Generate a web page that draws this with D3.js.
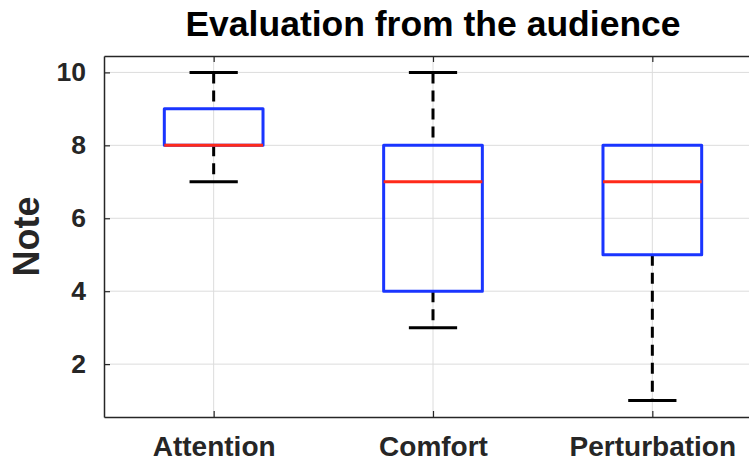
<!DOCTYPE html>
<html>
<head>
<meta charset="utf-8">
<script src="https://cdn.jsdelivr.net/npm/d3@7/dist/d3.min.js"></script>
<style>
  html, body { margin: 0; padding: 0; background: #fff; overflow: hidden; }
  svg { display: block; }
  text { font-family: "Liberation Sans", Arial, Helvetica, sans-serif; font-weight: bold; }
</style>
</head>
<body>
<svg id="chart" width="749" height="461"></svg>
<script>
// Audience ratings per criterion (box-plot summary)
const categories = ["Attention", "Comfort", "Perturbation"];
const whiskerLow  = [7, 3, 1];
const quartile1   = [8, 4, 5];
const medians     = [8, 7, 7];
const quartile3   = [9, 8, 8];
const whiskerHigh = [10, 10, 8];
const yTicks = [2, 4, 6, 8, 10];

const svg = d3.select("#chart");
// Plot frame; it continues a little past the right edge of the canvas
const frame = { left: 104, right: 762, top: 56, bottom: 417 };

const x = d3.scaleLinear().domain([0.5, 3.5]).range([frame.left, frame.right]);
const y = d3.scaleLinear().domain([0.55, 10.45]).range([frame.bottom, frame.top]);

const axisColor = "#262626";
const gridColor = "#dcdcdc";

// Grid
const grid = svg.append("g");
grid.selectAll("line.h").data(yTicks).join("line")
  .attr("x1", frame.left).attr("x2", frame.right)
  .attr("y1", d => y(d)).attr("y2", d => y(d))
  .attr("stroke", gridColor).attr("stroke-width", 1);
grid.selectAll("line.v").data(categories).join("line")
  .attr("x1", (d, i) => x(i + 1)).attr("x2", (d, i) => x(i + 1))
  .attr("y1", frame.top).attr("y2", frame.bottom)
  .attr("stroke", gridColor).attr("stroke-width", 1);

// Axes with inward ticks
const yAxis = d3.axisLeft(y).tickValues(yTicks).tickSizeInner(-6).tickSizeOuter(0).tickPadding(18);
const gy = svg.append("g").attr("transform", `translate(${frame.left},0)`).call(yAxis);
gy.select(".domain").attr("stroke", axisColor).attr("stroke-width", 1.5);
gy.selectAll(".tick line").attr("stroke", axisColor).attr("stroke-width", 1.2);
gy.selectAll(".tick text").attr("fill", axisColor).attr("font-size", 26.5)
  .attr("font-family", "Liberation Sans, Arial, sans-serif").attr("font-weight", "bold");

const xAxis = d3.axisBottom(x).tickValues([1, 2, 3]).tickFormat(d => categories[d - 1])
  .tickSizeInner(-6).tickSizeOuter(0).tickPadding(19);
const gx = svg.append("g").attr("transform", `translate(0,${frame.bottom})`).call(xAxis);
gx.select(".domain").attr("stroke", axisColor).attr("stroke-width", 1.5);
gx.selectAll(".tick line").attr("stroke", axisColor).attr("stroke-width", 1.2);
gx.selectAll(".tick text").attr("fill", axisColor).attr("font-size", 28)
  .attr("font-family", "Liberation Sans, Arial, sans-serif").attr("font-weight", "bold");

const xTop = d3.axisTop(x).tickValues([1, 2, 3]).tickFormat("").tickSizeInner(-6).tickSizeOuter(0);
const gt = svg.append("g").attr("transform", `translate(0,${frame.top})`).call(xTop);
gt.select(".domain").attr("stroke", axisColor).attr("stroke-width", 1.5);
gt.selectAll(".tick line").attr("stroke", axisColor).attr("stroke-width", 1.2);

// Boxes
const boxHalf = 0.225, capHalf = 0.11;
const data = categories.map((c, i) => ({
  i: i + 1, lo: whiskerLow[i], q1: quartile1[i], med: medians[i], q3: quartile3[i], hi: whiskerHigh[i]
}));
const boxes = svg.append("g").selectAll("g").data(data).join("g");

// Whiskers (dashed)
boxes.filter(d => d.hi > d.q3).append("line")
  .attr("x1", d => x(d.i)).attr("x2", d => x(d.i))
  .attr("y1", d => y(d.hi)).attr("y2", d => y(d.q3))
  .attr("stroke", "#000").attr("stroke-width", 3).attr("stroke-dasharray", "11,7");
boxes.filter(d => d.lo < d.q1).append("line")
  .attr("x1", d => x(d.i)).attr("x2", d => x(d.i))
  .attr("y1", d => y(d.q1)).attr("y2", d => y(d.lo))
  .attr("stroke", "#000").attr("stroke-width", 3).attr("stroke-dasharray", "11,7");

// Caps
boxes.filter(d => d.hi > d.q3).append("line")
  .attr("x1", d => x(d.i - capHalf)).attr("x2", d => x(d.i + capHalf))
  .attr("y1", d => y(d.hi)).attr("y2", d => y(d.hi))
  .attr("stroke", "#000").attr("stroke-width", 3);
boxes.append("line")
  .attr("x1", d => x(d.i - capHalf)).attr("x2", d => x(d.i + capHalf))
  .attr("y1", d => y(d.lo)).attr("y2", d => y(d.lo))
  .attr("stroke", "#000").attr("stroke-width", 3);

// Box body
boxes.append("rect")
  .attr("x", d => x(d.i - boxHalf)).attr("width", d => x(d.i + boxHalf) - x(d.i - boxHalf))
  .attr("y", d => y(d.q3)).attr("height", d => y(d.q1) - y(d.q3))
  .attr("fill", "none").attr("stroke", "#1a35ff").attr("stroke-width", 3)
  .attr("stroke-linejoin", "round");

// Median
boxes.append("line")
  .attr("x1", d => x(d.i - boxHalf)).attr("x2", d => x(d.i + boxHalf))
  .attr("y1", d => y(d.med)).attr("y2", d => y(d.med))
  .attr("stroke", "#ff2a1a").attr("stroke-width", 3);

// Title and y label
svg.append("text")
  .attr("x", (frame.left + frame.right) / 2).attr("y", 36)
  .attr("text-anchor", "middle").attr("font-size", 35.5).attr("fill", "#000")
  .text("Evaluation from the audience");

svg.append("text")
  .attr("transform", `translate(39,${(frame.top + frame.bottom) / 2}) rotate(-90)`)
  .attr("text-anchor", "middle").attr("font-size", 36).attr("fill", axisColor)
  .text("Note");
</script>
</body>
</html>
